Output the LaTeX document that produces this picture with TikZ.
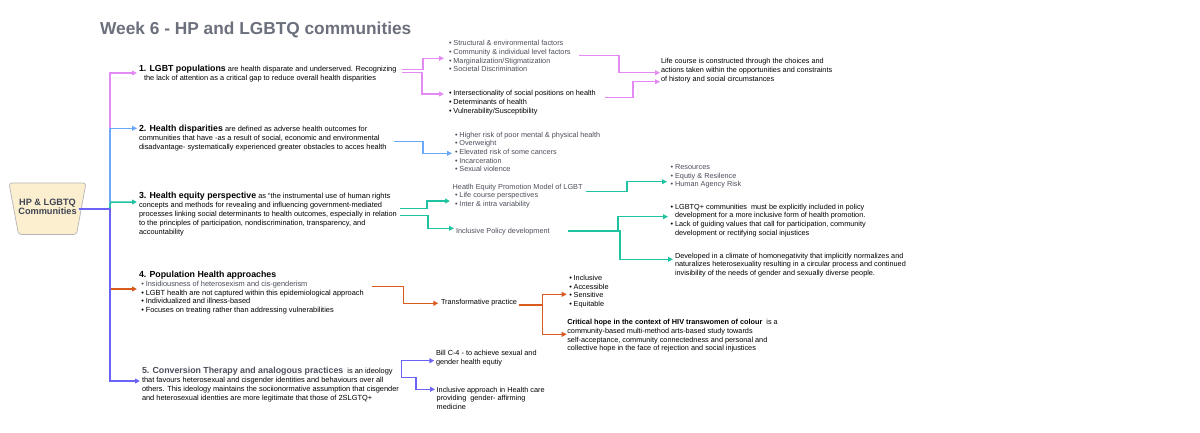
\documentclass[tikz,border=0pt]{standalone}
\usepackage{fontspec}
\setmainfont{Liberation Sans}
\usetikzlibrary{arrows.meta}
\definecolor{pk}{HTML}{E48AF4}
\definecolor{bl}{HTML}{6AA8F8}
\definecolor{tl}{HTML}{1FC3A2}
\definecolor{og}{HTML}{D85A1E}
\definecolor{vi}{HTML}{6A63F6}
\definecolor{gtext}{HTML}{4B4E5A}
\definecolor{ttl}{HTML}{6B707C}
\definecolor{cream}{HTML}{FCEFD0}
\definecolor{rootd}{HTML}{3E4452}
\definecolor{rootb}{HTML}{B4B4B4}
\newcommand{\hd}[1]{{\fontsize{8.8}{9}\selectfont\bfseries #1}}
\newcommand{\bu}{\makebox[4.4pt][l]{\textbullet}}
\newcommand{\ind}{\hspace*{4.4pt}}
\tikzset{
 txt/.style={inner sep=0pt, outer sep=0pt, align=left, anchor=north west, text=black, font=\fontsize{7.4}{9}\selectfont},
 lst/.style={txt, font=\fontsize{7.3}{8.7}\selectfont},
 glst/.style={lst, text=gtext},
 arr/.style={line width=1.5pt, -{Triangle[length=5pt,width=4.8pt]}},
 rootshape/.style={draw=rootb, fill=cream, rounded corners=3pt, line width=0.7pt},
 roottext/.style={inner sep=0pt, align=center, text=rootd, font=\fontsize{9.2}{9.4}\selectfont\bfseries},
}
\begin{document}
\begin{tikzpicture}[x=1pt,y=-1pt]
\useasboundingbox (0,0) rectangle (1200,432);
\fill[white] (0,0) rectangle (1200,432);

\node[anchor=base west, inner sep=0pt, text=ttl, font=\fontsize{17.3}{18}\selectfont\bfseries] (title) at (100,34) {Week 6 - HP and LGBTQ communities};

\path[rootshape] (9,183) -- (86,183) -- (76.5,234.5) -- (18.5,234.5) -- cycle;
\node[roottext] (root) at (47.5,207) {HP \& LGBTQ\\Communities};

% level 1 nodes
\node[txt] (n1) at (139,64.9) {\hd{1. LGBT populations} are health disparate and underserved. Recognizing\\\hspace*{5pt}the lack of attention as a critical gap to reduce overall health disparities};
\node[txt] (n2) at (139,125.2) {\hd{2. Health disparities} are defined as adverse health outcomes for\\communities that have -as a result of social, economic and environmental\\disadvantage- systematically experienced greater obstacles to acces health};
\node[txt] (n3) at (139,192.6) {\hd{3. Health equity perspective} as ``the instrumental use of human rights\\concepts and methods for revealing and influencing government-mediated\\processes linking social determinants to health outcomes, especially in relation\\to the principles of participation, nondiscrimination, transparency, and\\accountability};
\node[txt, font=\fontsize{7.4}{8.9}\selectfont] (n4) at (139,270.9) {\hd{4. Population Health approaches}\\\hspace*{2.4pt}{\color{gtext}\bu Insidiousness of heterosexism and cis-genderism}\\\hspace*{2.4pt}\bu LGBT health are not captured within this epidemiological approach\\\hspace*{2.4pt}\bu Individualized and illness-based\\\hspace*{2.4pt}\bu Focuses on treating rather than addressing vulnerabilities};
\node[txt] (n5) at (142,366.9) {{\color{gtext}\hd{5. Conversion Therapy and analogous practices}}\ \ is an ideology\\that favours heterosexual and cisgender identities and behaviours over all\\others. This ideology maintains the sociionormative assumption that cisgender\\and heterosexual identties are more legitimate that those of 2SLGTQ+};

% level 2 nodes
\node[glst] (listA) at (449,40.5) {\bu Structural \& environmental factors\\\bu Community \& individual level factors\\\bu Marginalization/Stigmatization\\\bu Societal Discrimination};
\node[lst] (listB) at (449,90.5) {\bu Intersectionality of social positions on health\\\bu Determinants of health\\\bu Vulnerability/Susceptibility};
\node[lst] (life) at (661,58.5) {Life course is constructed through the choices and\\actions taken within the opportunities and constraints\\of history and social circumstances};
\node[glst] (listC) at (455,131.8) {\bu Higher risk of poor mental \& physical health\\\bu Overweight\\\bu Elevated risk of some cancers\\\bu Incarceration\\\bu Sexual violence};
\node[glst] (hepm) at (452.7,183.8) {Heatlh Equity Promotion Model of LGBT\\\hspace*{2.4pt}\bu Life course perspectives\\\hspace*{2.4pt}\bu Inter \& intra variability};
\node[glst] (ipd) at (456,228.5) {Inclusive Policy development};
\node[glst] (res) at (670.7,164.5) {\bu Resources\\\bu Equtiy \& Resilence\\\bu Human Agency Risk};
\node[lst] (lgp) at (670.7,203.8) {\bu LGBTQ+ communities\ \ must be explicitly included in policy\\\ind development for a more inclusive form of health promotion.\\\bu Lack of guiding values that call for participation, community\\\ind development or rectifying social injustices};
\node[lst] (dev) at (675,252.8) {Developed in a climate of homonegativity that implicitly normalizes and\\naturalizes heterosexuality resulting in a circular process and continued\\invisibility of the needs of gender and sexually diverse people.};
\node[lst] (tra) at (441,298.8) {Transformative practice};
\node[lst] (sens) at (569.3,275.1) {\bu Inclusive\\\bu Accessible\\\bu Sensitive\\\bu Equitable};
\node[lst] (crit) at (567.3,319.6) {\textbf{Critical hope in the context of HIV transwomen of colour}\ \ is a\\community-based multi-method arts-based study towards\\self-acceptance, community connectedness and personal and\\collective hope in the face of rejection and social injustices};
\node[lst] (bill) at (436,350.1) {Bill C-4 - to achieve sexual and\\gender health equtiy};
\node[lst] (inap) at (436.7,386.8) {Inclusive approach in Health care\\providing\ \ gender- affirming\\medicine};

% trunk
\coordinate (r0) at ([xshift=2pt,yshift=-2pt]root.east);
\coordinate (trunkx) at (110,0);
\coordinate (J) at (r0 -| trunkx);
\coordinate (t1) at ([xshift=-2pt,yshift=-8.1pt]n1.north west);
\coordinate (t2) at ([xshift=-2pt,yshift=-3.1pt]n2.north west);
\coordinate (t3) at ([xshift=-2pt,yshift=-9.4pt]n3.north west);
\coordinate (t4) at ([xshift=-2pt,yshift=-18.1pt]n4.north west);
\coordinate (t5) at ([xshift=-2pt,yshift=-14.1pt]n5.north west);
\draw[arr,pk] (r0) -- (J) |- (t1);
\draw[arr,bl] (r0) -- (J) |- (t2);
\draw[arr,tl,rounded corners=1.5pt] (r0) -- (J) |- (t3);
\draw[arr,og] (r0) -- (J) |- (t4);
\draw[arr,vi] (r0) -- (J) |- (t5);

% n1 -> lists
\coordinate (s1a) at ([xshift=6pt,yshift=-4.4pt]n1.north east);
\coordinate (s1b) at ([xshift=6pt,yshift=-7.4pt]n1.north east);
\coordinate (tA) at ([xshift=-5pt,yshift=-17.8pt]listA.north west);
\coordinate (tB) at ([xshift=-5pt,yshift=-3.5pt]listB.north west);
\draw[arr,pk] (s1a) -| ([xshift=-21pt]tA) -- (tA);
\draw[arr,pk] (s1b) -| ([xshift=-22pt]tB) -- (tB);
% lists -> life
\coordinate (sA) at ([xshift=8pt,yshift=-14.8pt]listA.north east);
\coordinate (tL1) at ([xshift=-1pt,yshift=-14.2pt]life.north west);
\coordinate (sB) at ([xshift=9pt,yshift=-6.8pt]listB.north east);
\coordinate (tL2) at ([xshift=-1pt,yshift=-23.2pt]life.north west);
\draw[arr,pk] (sA) -| ([xshift=-41pt]tL1) -- (tL1);
\draw[arr,pk] (sB) -| ([xshift=-27pt]tL2) -- (tL2);
% n2 -> listC
\coordinate (s2) at ([xshift=7pt,yshift=-16.1pt]n2.north east);
\coordinate (tC) at ([xshift=-3pt,yshift=-21.5pt]listC.north west);
\draw[arr,bl] (s2) -| ([xshift=-29pt]tC) -- (tC);
% n3 -> hepm, ipd
\coordinate (s3a) at ([xshift=3pt,yshift=-16.1pt]n3.north east);
\coordinate (s3b) at ([xshift=3pt,yshift=-22.7pt]n3.north east);
\coordinate (tH) at ([xshift=-2.7pt,yshift=-17.2pt]hepm.north west);
\coordinate (tI) at ([xshift=-2pt,yshift=0.2pt]ipd.north west);
\draw[arr,tl] (s3a) -| ([xshift=-23pt]tH) -- (tH);
\draw[arr,tl] (s3b) -| ([xshift=-26pt]tI) -- (tI);
% hepm -> res
\coordinate (sH) at ([xshift=3.5pt,yshift=-7.9pt]hepm.north east);
\coordinate (tR) at ([xshift=-3.7pt,yshift=-17.2pt]res.north west);
\draw[arr,tl] (sH) -| ([xshift=-40pt]tR) -- (tR);
% ipd -> lgp, dev
\coordinate (sI) at ([xshift=18.6pt,yshift=-2.5pt]ipd.north east);
\coordinate (tP) at ([xshift=-2.7pt,yshift=-12.9pt]lgp.north west);
\coordinate (tD) at ([xshift=-2pt,yshift=-6.5pt]dev.north west);
\draw[arr,tl] (sI) -| ([xshift=-50pt]tP) -- (tP);
\draw[arr,tl] (sI) -| ([xshift=-53pt]tD) -- (tD);
% n4 -> tra
\coordinate (s4) at ([xshift=7.7pt,yshift=-15.8pt]n4.north east);
\coordinate (tT) at ([xshift=-2.7pt,yshift=-4.5pt]tra.north west);
\draw[arr,og] (s4) -| ([xshift=-35pt]tT) -- (tT);
% tra -> sens, crit
\coordinate (sT) at ([xshift=1.7pt,yshift=-6.2pt]tra.north east);
\coordinate (tS) at ([xshift=-2.6pt,yshift=-19.2pt]sens.north west);
\coordinate (tCr) at ([xshift=-0.6pt,yshift=-14.7pt]crit.north west);
\draw[arr,og] (sT) -| ([xshift=-24pt]tS) -- (tS);
\draw[arr,og] (sT) -| ([xshift=-24pt]tCr) -- (tCr);
% n5 -> bill, inap
\coordinate (s5) at ([xshift=4pt,yshift=-10.8pt]n5.north east);
\coordinate (tBi) at ([xshift=-1.7pt,yshift=-10.6pt]bill.north west);
\coordinate (tIn) at ([xshift=-1.7pt,yshift=-2.5pt]inap.north west);
\draw[arr,vi] (s5) -| ([xshift=-32.6pt]tBi) -- (tBi);
\draw[arr,vi] (s5) -| ([xshift=-19pt]tIn) -- (tIn);
\end{tikzpicture}
\end{document}
